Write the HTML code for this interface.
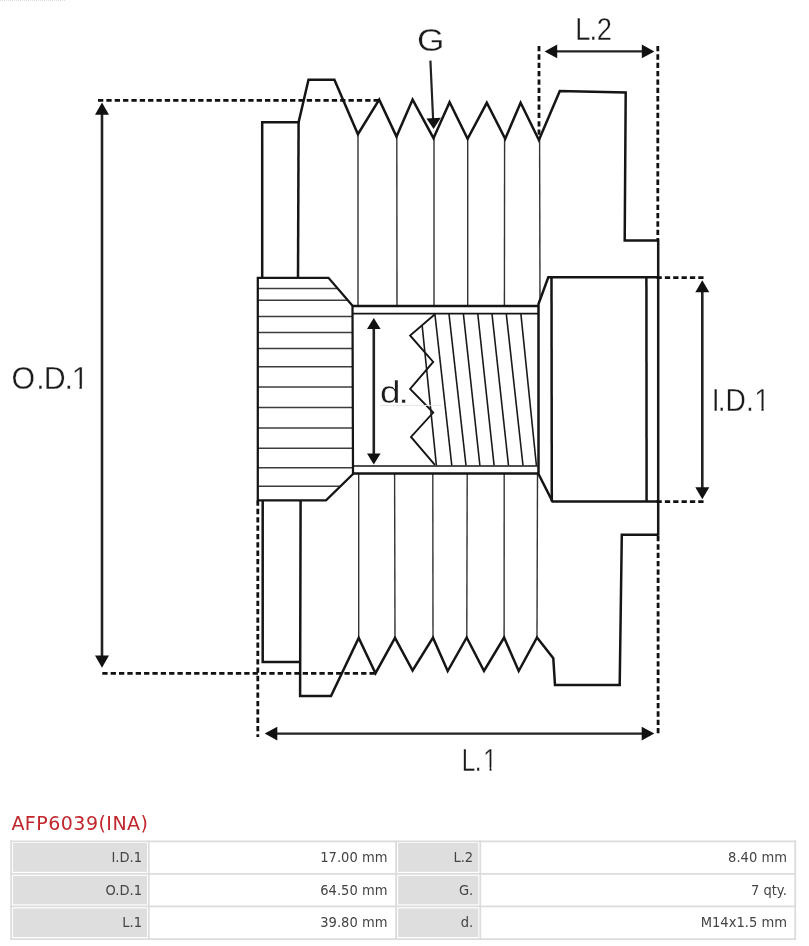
<!DOCTYPE html>
<html><head><meta charset="utf-8"><title>AFP6039(INA)</title>
<style>
html,body{margin:0;padding:0;background:#fff;}
body{width:809px;height:946px;overflow:hidden;}
svg{display:block;will-change:transform;}
.lbl{font-family:"Liberation Sans",sans-serif;font-size:31.3px;fill:#1a1a1a;stroke:#fff;stroke-width:.35px;paint-order:fill stroke;}
.tt{font-family:"DejaVu Sans","Liberation Sans",sans-serif;font-size:19px;fill:#c1272d;}
.tc{font-family:"DejaVu Sans","Liberation Sans",sans-serif;font-size:13.1px;fill:#444;text-anchor:end;}
.b{fill:none;stroke:#151515;stroke-width:2.5;stroke-linejoin:miter;stroke-linecap:butt;}
.m{fill:none;stroke:#151515;stroke-width:1.6;}
.t{fill:none;stroke:#333;stroke-width:1.4;}
.d{fill:none;stroke:#111;stroke-width:2.8;stroke-dasharray:5.3 3.05;}
.a{fill:none;stroke:#222;stroke-width:2.6;}
.h{fill:#111;stroke:none;}
</style></head><body>
<svg width="809" height="946" viewBox="0 0 809 946">
<rect width="809" height="946" fill="#fff"/>
<line x1="0" y1="0.5" x2="65" y2="0.5" stroke="#dcdcdc" stroke-width="1" stroke-dasharray="1 1"/>

<line class="t" x1="358" y1="134" x2="358" y2="306"/>
<line class="t" x1="396.8" y1="136.6" x2="397" y2="306"/>
<line class="t" x1="434" y1="138" x2="434" y2="306"/>
<line class="t" x1="467.7" y1="139" x2="467.7" y2="306"/>
<line class="t" x1="504.6" y1="139" x2="504.4" y2="306"/>
<line class="t" x1="539.6" y1="139" x2="540" y2="300"/>
<line class="t" x1="358.7" y1="474" x2="358.7" y2="638"/>
<line class="t" x1="394.6" y1="474" x2="395" y2="638"/>
<line class="t" x1="432.8" y1="474" x2="433" y2="637.7"/>
<line class="t" x1="467.2" y1="474" x2="466.8" y2="637.5"/>
<line class="t" x1="504.2" y1="474" x2="504.1" y2="637.5"/>
<line class="t" x1="537.5" y1="474" x2="537" y2="637.5"/>
<path class="b" d="M262.2,278 L262.2,122.3 L298.6,122.3 L308.5,79.8 L334.4,79.8 L357.9,134.2 L379.2,99.6 L396.5,136.6 L412.6,99.6 L433.5,138.2 L449.6,102.2 L467.6,138.8 L486.8,102.8 L505.2,138.8 L520.6,102.8 L538.9,140 L559.8,91 L625.7,92.5 L624.7,240.6 L658.2,240.6"/>
<path class="b" d="M298.6,122.3 L298,278"/>
<path class="b" d="M262.7,500 L262.7,661.9 L300.1,661.9"/>
<path class="b" d="M300.6,500 L300.1,696 L331,696 L358.7,637.9 L375.5,673.2 L395,637.9 L412.6,670.5 L433,637.7 L447.7,671 L466.7,637.5 L484,671 L504.1,637.5 L518.7,671 L537,637.5 L553.3,658.3 L555,685 L619.7,685 L621.8,534.7 L658.2,534.7"/>
<path class="b" d="M658.2,239.6 L658.2,535.7"/>
<clipPath id="hub"><path d="M257.8,277.8 L328.5,277.8 L352.5,305.7 L353,474 L326,500.4 L257.8,500.4 Z"/></clipPath>
<g clip-path="url(#hub)">
<line class="m" style="stroke:#3c3c3c;stroke-width:1.5" x1="257" y1="288.4" x2="354" y2="288.4"/>
<line class="m" style="stroke:#3c3c3c;stroke-width:1.5" x1="257" y1="300.3" x2="354" y2="300.3"/>
<line class="m" style="stroke:#3c3c3c;stroke-width:1.5" x1="257" y1="316.4" x2="354" y2="316.4"/>
<line class="m" style="stroke:#3c3c3c;stroke-width:1.5" x1="257" y1="332.4" x2="354" y2="332.4"/>
<line class="m" style="stroke:#3c3c3c;stroke-width:1.5" x1="257" y1="348.5" x2="354" y2="348.5"/>
<line class="m" style="stroke:#3c3c3c;stroke-width:1.5" x1="257" y1="366.8" x2="354" y2="366.8"/>
<line class="m" style="stroke:#3c3c3c;stroke-width:1.5" x1="257" y1="387.1" x2="354" y2="387.1"/>
<line class="m" style="stroke:#3c3c3c;stroke-width:1.5" x1="257" y1="407.5" x2="354" y2="407.5"/>
<line class="m" style="stroke:#3c3c3c;stroke-width:1.5" x1="257" y1="428.1" x2="354" y2="428.1"/>
<line class="m" style="stroke:#3c3c3c;stroke-width:1.5" x1="257" y1="448.2" x2="354" y2="448.2"/>
<line class="m" style="stroke:#3c3c3c;stroke-width:1.5" x1="257" y1="467.8" x2="354" y2="467.8"/>
<line class="m" style="stroke:#3c3c3c;stroke-width:1.5" x1="257" y1="486.3" x2="354" y2="486.3"/>
</g>
<path class="b" style="stroke-width:2.25" d="M257.8,277.8 L328.5,277.8 L352.5,305.7 L353,474 L326,500.4 L257.8,500.4 Z"/>
<line class="b" x1="352.5" y1="306" x2="539" y2="306"/>
<line class="m" x1="353" y1="313.6" x2="538.5" y2="313.6"/>
<line class="m" x1="353" y1="466" x2="538.5" y2="466"/>
<line class="b" x1="352.5" y1="473.4" x2="539" y2="473.4"/>
<path class="b" d="M658.2,277.2 L548.3,277.2 L538.5,304 L538.5,474 L552.5,501.5 L658.2,501.5"/>
<line class="b" x1="551.5" y1="277.2" x2="551.8" y2="501.5"/>
<line class="b" x1="646.4" y1="277.2" x2="646.6" y2="501.5"/>
<path class="m" style="stroke-width:1.9" d="M434.9,314.3 L410.1,335.5 L433.2,361.9 L410.1,388.9 L433.2,412.6 L411,436.9 L434.9,464.8"/>
<line class="t" style="stroke-width:1.6;stroke:#1a1a1a" x1="434.9" y1="314" x2="451.8" y2="465.5"/>
<line class="t" style="stroke-width:1.6;stroke:#1a1a1a" x1="449" y1="314" x2="466" y2="465.5"/>
<line class="t" style="stroke-width:1.6;stroke:#1a1a1a" x1="463.4" y1="314" x2="479.9" y2="465.5"/>
<line class="t" style="stroke-width:1.6;stroke:#1a1a1a" x1="477.8" y1="314" x2="494.1" y2="465.5"/>
<line class="t" style="stroke-width:1.6;stroke:#1a1a1a" x1="492" y1="314" x2="508.5" y2="465.5"/>
<line class="t" style="stroke-width:1.6;stroke:#1a1a1a" x1="506.3" y1="314" x2="523" y2="465.5"/>
<line class="t" style="stroke-width:1.6;stroke:#1a1a1a" x1="520.9" y1="314" x2="536.4" y2="465.5"/>
<line class="t" style="stroke-width:1.6;stroke:#1a1a1a" x1="422.2" y1="326" x2="436.4" y2="465.5"/>
<line x1="379.8" y1="405.4" x2="441.6" y2="405.4" stroke="#e4e4e4" stroke-width="1"/>
<line class="a" x1="102" y1="113.8" x2="102" y2="656.5"/>
<path class="h" d="M102,102.6 L95,114.8 L109,114.8 Z"/>
<path class="h" d="M102,667.7 L95,655.5 L109,655.5 Z"/>
<line class="d" x1="98" y1="100.3" x2="379.5" y2="100.3"/>
<line class="d" x1="102.3" y1="673.3" x2="376" y2="673.3"/>
<line class="a" x1="702.3" y1="291.3" x2="702.3" y2="488.2"/>
<path class="h" d="M702.3,280.3 L695.3,292.3 L709.3,292.3 Z"/>
<path class="h" d="M702.3,499.2 L695.3,487.2 L709.3,487.2 Z"/>
<line class="d" x1="656.5" y1="277.6" x2="705" y2="277.6"/>
<line class="d" x1="656.5" y1="501.6" x2="705" y2="501.6"/>
<line class="a" x1="373.8" y1="328" x2="373.8" y2="454.5"/>
<path class="h" d="M373.8,318 L367.0,329 L380.6,329 Z"/>
<path class="h" d="M373.8,464.5 L367.0,453.5 L380.6,453.5 Z"/>
<line class="a" style="stroke-width:2.15" x1="276.3" y1="733.6" x2="642.6999999999999" y2="733.6"/>
<path class="h" d="M264.7,733.6 L277.3,726.8000000000001 L277.3,740.4 Z"/>
<path class="h" d="M654.3,733.6 L641.6999999999999,726.8000000000001 L641.6999999999999,740.4 Z"/>
<line class="d" x1="257.8" y1="500.5" x2="257.8" y2="737"/>
<line class="d" x1="658.1" y1="536" x2="658.1" y2="735"/>
<line class="a" style="stroke-width:2.15" x1="556.2" y1="51.4" x2="642.8" y2="51.4"/>
<path class="h" d="M544.6,51.4 L557.2,44.6 L557.2,58.199999999999996 Z"/>
<path class="h" d="M654.4,51.4 L641.8,44.6 L641.8,58.199999999999996 Z"/>
<line class="d" x1="539" y1="46" x2="539" y2="139"/>
<line class="d" x1="657.8" y1="46" x2="657.8" y2="240"/>
<line class="a" style="stroke-width:2.2" x1="430.4" y1="60.6" x2="433.1" y2="119"/>
<path class="h" d="M433.6,129 L426.4,118.4 L440.9,117.8 Z"/>
<text class="lbl" transform="translate(0,388.5) scale(0.97,1.0)" x="11.82 37.35 45.17 66.42 73.90" y="0">O.D.1</text>
<rect x="72.60" y="385.26" width="6.87" height="4.04" fill="#fff"/>
<rect x="81.85" y="385.26" width="6.64" height="4.04" fill="#fff"/>
<text class="lbl" transform="translate(0,411.4) scale(0.9,1.0)" x="790.89 797.48 805.99 829.03 838.03" y="0">I.D.1</text>
<rect x="754.97" y="408.16" width="6.49" height="4.04" fill="#fff"/>
<rect x="763.65" y="408.16" width="6.27" height="4.04" fill="#fff"/>
<text class="lbl" transform="translate(0,403.3) scale(1.18,0.975)" x="322.08 337.82" y="0">d.</text>
<text class="lbl" transform="translate(0,770.5) scale(0.78,1.015)" x="592.05 608.81 619.62" y="0">L.1</text>
<rect x="483.76" y="767.23" width="5.83" height="4.07" fill="#fff"/>
<rect x="491.45" y="767.23" width="5.64" height="4.07" fill="#fff"/>
<text class="lbl" transform="translate(0,40.1) scale(0.87,1.0)" x="661.34 677.60 685.78" y="0">L.2</text>
<text class="lbl" transform="translate(0,50.5) scale(1.13,1.02)" x="369.13" y="0">G</text>
<text class="tt" x="11.4" y="829.5" textLength="136.6" lengthAdjust="spacing">AFP6039(INA)</text>
<line x1="10.2" y1="841.3" x2="796.1" y2="841.3" stroke="#dcdcdc" stroke-width="1.8"/>
<line x1="10.2" y1="873.8" x2="796.1" y2="873.8" stroke="#dcdcdc" stroke-width="1.8"/>
<line x1="10.2" y1="906.4" x2="796.1" y2="906.4" stroke="#dcdcdc" stroke-width="1.8"/>
<line x1="10.2" y1="939.1" x2="796.1" y2="939.1" stroke="#dcdcdc" stroke-width="1.8"/>
<line x1="11.1" y1="840.4" x2="11.1" y2="940" stroke="#dcdcdc" stroke-width="1.8"/>
<line x1="148.8" y1="840.4" x2="148.8" y2="940" stroke="#dcdcdc" stroke-width="1.8"/>
<line x1="396.1" y1="840.4" x2="396.1" y2="940" stroke="#dcdcdc" stroke-width="1.8"/>
<line x1="480.3" y1="840.4" x2="480.3" y2="940" stroke="#dcdcdc" stroke-width="1.8"/>
<line x1="795.2" y1="840.4" x2="795.2" y2="940" stroke="#dcdcdc" stroke-width="1.8"/>
<rect x="13" y="843" width="134" height="28.799999999999955" fill="#dedede"/>
<rect x="398.1" y="843" width="80.19999999999999" height="28.799999999999955" fill="#dedede"/>
<rect x="13" y="875.8" width="134" height="28.600000000000023" fill="#dedede"/>
<rect x="398.1" y="875.8" width="80.19999999999999" height="28.600000000000023" fill="#dedede"/>
<rect x="13" y="908.4" width="134" height="28.600000000000023" fill="#dedede"/>
<rect x="398.1" y="908.4" width="80.19999999999999" height="28.600000000000023" fill="#dedede"/>
<text class="tc" transform="translate(142.1,861.8) scale(1,1.09)">I.D.1</text>
<text class="tc" transform="translate(387.4,861.8) scale(1,1.09)">17.00 mm</text>
<text class="tc" transform="translate(473.2,861.8) scale(1,1.09)">L.2</text>
<text class="tc" transform="translate(786.9,861.8) scale(1,1.09)">8.40 mm</text>
<text class="tc" transform="translate(142.1,894.6) scale(1,1.09)">O.D.1</text>
<text class="tc" transform="translate(387.4,894.6) scale(1,1.09)">64.50 mm</text>
<text class="tc" transform="translate(473.2,894.6) scale(1,1.09)">G.</text>
<text class="tc" transform="translate(786.9,894.6) scale(1,1.09)">7 qty.</text>
<text class="tc" transform="translate(142.1,927.4) scale(1,1.09)">L.1</text>
<text class="tc" transform="translate(387.4,927.4) scale(1,1.09)">39.80 mm</text>
<text class="tc" transform="translate(473.2,927.4) scale(1,1.09)">d.</text>
<text class="tc" transform="translate(786.9,927.4) scale(1,1.09)">M14x1.5 mm</text>
</svg></body></html>
